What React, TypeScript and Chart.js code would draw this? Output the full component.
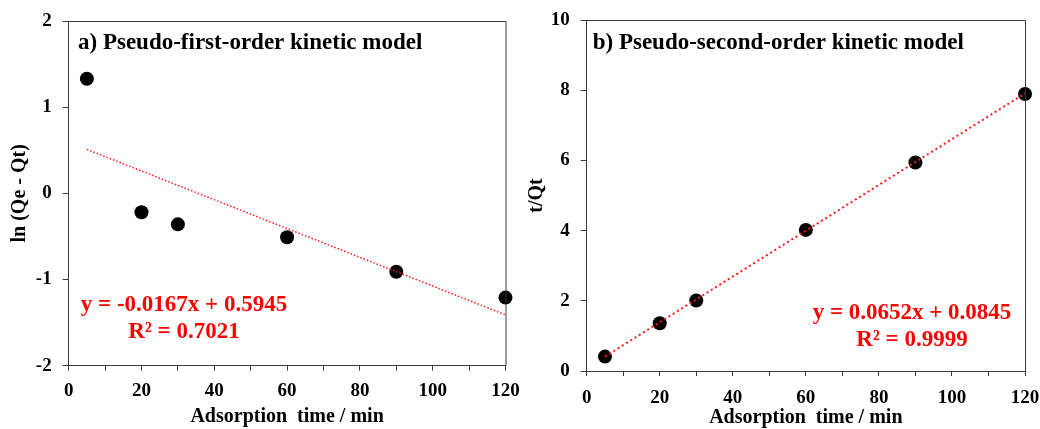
import React, { useEffect, useRef } from "react";
import { Chart, registerables } from "chart.js";

Chart.register(...registerables);

// ---- data ----
const timeMin = [5, 20, 30, 60, 90, 120];
const lnQeQt = [1.33, -0.22, -0.36, -0.51, -0.91, -1.21];
const tOverQt = [0.41, 1.36, 2.01, 4.02, 5.94, 7.89];
const fitX = [5, 120];
const fitFirstY = [0.51, -1.41];
const fitSecondY = [0.41, 7.91];
const xTicks = [0, 20, 40, 60, 80, 100, 120];
const titleFirst = "a) Pseudo-first-order kinetic model";
const titleSecond = "b) Pseudo-second-order kinetic model";
const eqFirst = ["y = -0.0167x + 0.5945", "R² = 0.7021"];
const eqSecond = ["y = 0.0652x + 0.0845", "R² = 0.9999"];
const xTitle = "Adsorption  time / min";
const yTitleFirst = "ln (Qe - Qt)";
const yTitleSecond = "t/Qt";

const FONT = '"Liberation Serif", "Times New Roman", serif';
const AXIS = "#3a3a3a";

type PanelCfg = {
  width: number;
  xs: number[];
  ys: number[];
  fitY: number[];
  yMin: number;
  yMax: number;
  yStep: number;
  yTitle: string;
  yTitlePad: number;
  xTitlePad: number;
  xTickPad: number;
  area: { left: number; top: number; right: number; bottom: number };
  title: string;
  titlePos: [number, number];
  eq: string[];
  eqPos: [number, number, number];
  dash: number[];
  dashWidth: number;
};

const makePlugin = (cfg: PanelCfg) => ({
  id: "decor",
  afterDraw(chart: any) {
    const { ctx, chartArea } = chart;
    ctx.save();
    ctx.strokeStyle = AXIS;
    ctx.lineWidth = 1;
    ctx.beginPath();
    ctx.moveTo(chartArea.left, chartArea.top + 0.5);
    ctx.lineTo(chartArea.right + 0.5, chartArea.top + 0.5);
    ctx.lineTo(chartArea.right + 0.5, chartArea.bottom);
    ctx.stroke();
    ctx.fillStyle = "#000";
    ctx.font = `bold 23px ${FONT}`;
    ctx.textBaseline = "middle";
    ctx.textAlign = "left";
    ctx.fillText(cfg.title, chartArea.left + cfg.titlePos[0], chartArea.top + cfg.titlePos[1]);
    ctx.fillStyle = "#ff0000";
    ctx.font = `bold 23px ${FONT}`;
    ctx.textAlign = "center";
    ctx.fillText(cfg.eq[0], chartArea.left + cfg.eqPos[0], chartArea.top + cfg.eqPos[1]);
    ctx.fillText(cfg.eq[1], chartArea.left + cfg.eqPos[0], chartArea.top + cfg.eqPos[2]);
    ctx.restore();
  },
});

function Panel({ cfg }: { cfg: PanelCfg }) {
  const ref = useRef<HTMLCanvasElement>(null);
  useEffect(() => {
    if (!ref.current) return;
    const a = cfg.area;
    const chart = new Chart(ref.current, {
      type: "scatter",
      data: {
        datasets: [
          {
            data: fitX.map((x, i) => ({ x, y: cfg.fitY[i] })),
            showLine: true,
            pointRadius: 0,
            borderColor: "#ff1a1a",
            borderWidth: cfg.dashWidth,
            borderDash: cfg.dash,
            clip: false,
            order: 0,
          },
          {
            data: cfg.xs.map((x, i) => ({ x, y: cfg.ys[i] })),
            showLine: false,
            pointRadius: 7,
            pointBackgroundColor: "#000",
            pointBorderColor: "#000",
            pointBorderWidth: 0,
            clip: false,
            order: 1,
          },
        ],
      },
      plugins: [makePlugin(cfg)],
      options: {
        responsive: false,
        animation: false,
        layout: {
          padding: { left: 0, top: a.top, right: cfg.width - a.right, bottom: 0 },
        },
        plugins: { legend: { display: false }, tooltip: { enabled: false } },
        scales: {
          x: {
            type: "linear",
            min: 0,
            max: 120,
            afterBuildTicks: (s: any) => {
              const t: any[] = [];
              for (let v = 0; v <= 120; v += 10) t.push({ value: v });
              s.ticks = t;
            },
            afterFit: (s: any) => {
              s.height = 429 - a.bottom;
              s.paddingLeft = 0;
              s.paddingRight = 0;
            },
            ticks: {
              autoSkip: false,
              maxRotation: 0,
              padding: cfg.xTickPad,
              color: "#000",
              font: { family: FONT, size: 19, weight: "bold" },
              callback: (v: any) => (xTicks.includes(Number(v)) ? String(v) : ""),
            },
            grid: { drawOnChartArea: false, drawTicks: true, tickLength: 5, color: AXIS },
            border: { color: AXIS, width: 1 },
            title: {
              display: true,
              text: xTitle,
              color: "#000",
              font: { family: FONT, size: 20, weight: "bold" },
              padding: { top: 0, bottom: cfg.xTitlePad },
            },
          },
          y: {
            type: "linear",
            min: cfg.yMin,
            max: cfg.yMax,
            afterFit: (s: any) => {
              s.width = a.left;
              s.paddingTop = 0;
              s.paddingBottom = 0;
            },
            ticks: {
              stepSize: cfg.yStep,
              padding: 11,
              color: "#000",
              font: { family: FONT, size: 19, weight: "bold" },
            },
            grid: { drawOnChartArea: false, drawTicks: true, tickLength: 6, color: AXIS },
            border: { color: AXIS, width: 1 },
            title: {
              display: true,
              text: cfg.yTitle,
              color: "#000",
              font: { family: FONT, size: 20, weight: "bold" },
              padding: { top: cfg.yTitlePad, bottom: 0 },
            },
          },
        },
      } as any,
    });
    return () => chart.destroy();
  }, [cfg]);
  return <canvas ref={ref} width={cfg.width} height={429} style={{ display: "block" }} />;
}

const leftCfg: PanelCfg = {
  width: 545,
  xs: timeMin,
  ys: lnQeQt,
  fitY: fitFirstY,
  yMin: -2,
  yMax: 2,
  yStep: 1,
  yTitle: yTitleFirst,
  yTitlePad: 8,
  xTitlePad: 0,
  xTickPad: 9,
  area: { left: 68.7, top: 21, right: 505.5, bottom: 365.7 },
  title: titleFirst,
  titlePos: [9.3, 21.7],
  eq: eqFirst,
  eqPos: [115.3, 284, 310.7],
  dash: [1.5, 2],
  dashWidth: 1.5,
};

const rightCfg: PanelCfg = {
  width: 520,
  xs: timeMin,
  ys: tOverQt,
  fitY: fitSecondY,
  yMin: 0,
  yMax: 10,
  yStep: 2,
  yTitle: yTitleSecond,
  yTitlePad: 5,
  xTitlePad: -1,
  xTickPad: 11,
  area: { left: 66.7, top: 20, right: 505, bottom: 371 },
  title: titleSecond,
  titlePos: [6, 23],
  eq: eqSecond,
  eqPos: [325.3, 293.3, 320],
  dash: [2, 3],
  dashWidth: 2,
};

export default function App() {
  return (
    <div style={{ position: "fixed", left: 0, top: 0, width: 1040, height: 429, background: "#fff" }}>
      <div style={{ position: "absolute", left: 0, top: 0 }}>
        <Panel cfg={leftCfg} />
      </div>
      <div style={{ position: "absolute", left: 520, top: 0 }}>
        <Panel cfg={rightCfg} />
      </div>
    </div>
  );
}
